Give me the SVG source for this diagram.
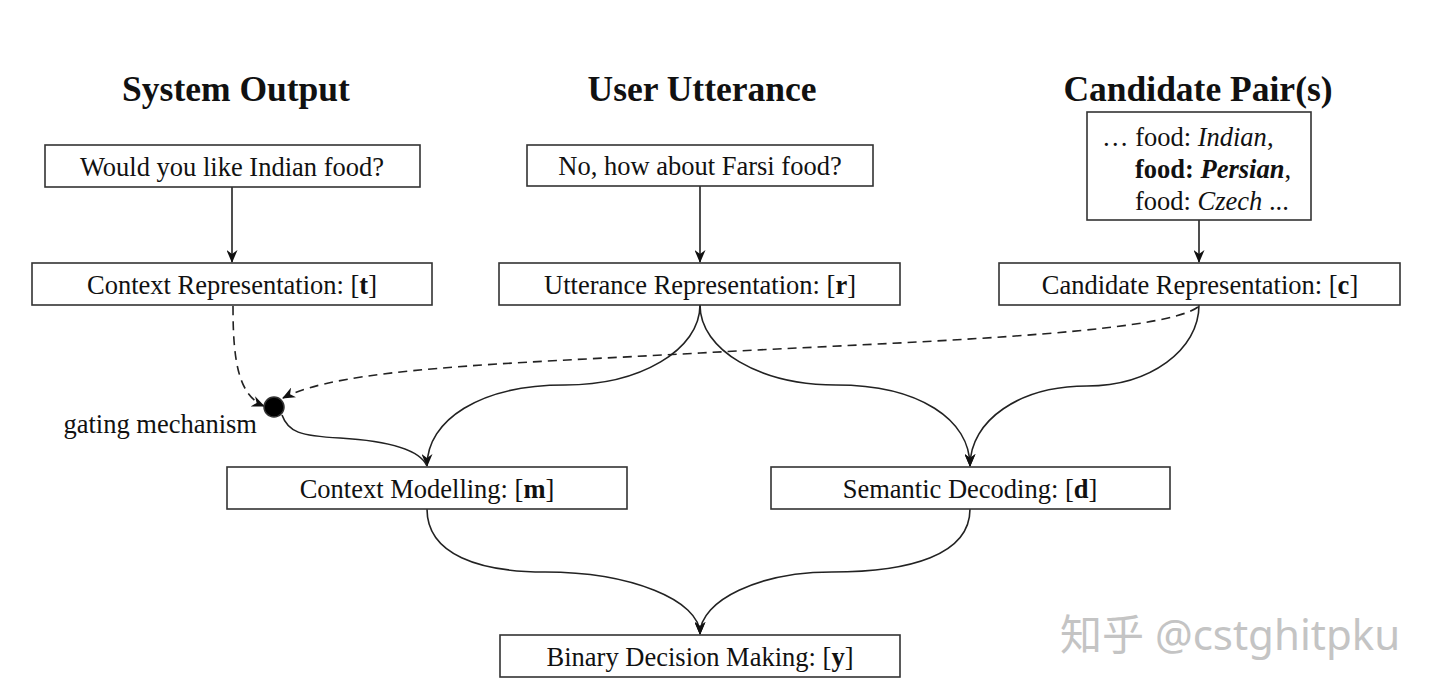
<svg xmlns="http://www.w3.org/2000/svg" width="1440" height="700" viewBox="0 0 1440 700">
<style>
.box{fill:#fff;stroke:#333;stroke-width:1.6}
.t{font-family:"Liberation Serif","Times New Roman",serif;font-size:26.5px;fill:#111;text-anchor:middle}
.h{font-family:"Liberation Serif","Times New Roman",serif;font-size:35.5px;font-weight:bold;fill:#111;text-anchor:middle}
.c{font-family:"Liberation Serif","Times New Roman",serif;font-size:26.5px;fill:#111}
.ln{fill:none;stroke:#222;stroke-width:1.6}
.dash{stroke-dasharray:9 6}
</style>
<defs>
<marker id="arr" viewBox="0 0 13 11" refX="12" refY="5.5" markerWidth="13" markerHeight="11" markerUnits="userSpaceOnUse" orient="auto">
<path d="M0,0 L13,5.5 L0,11 L4,5.5 z" fill="#111"/>
</marker>
</defs>
<rect width="1440" height="700" fill="#fff"/>
<text class="h" x="236" y="101">System Output</text>
<text class="h" x="702" y="101">User Utterance</text>
<text class="h" x="1198" y="101">Candidate Pair(s)</text>
<g id="connectors">
<path class="ln" d="M232,187 L232,262" marker-end="url(#arr)"/>
<path class="ln" d="M700,186 L700,262" marker-end="url(#arr)"/>
<path class="ln" d="M1199,220 L1199,262" marker-end="url(#arr)"/>
<path class="ln" d="M700,305 C700,350 640,385 565,385 C480,385 427,420 427,466" marker-end="url(#arr)"/>
<path class="ln" d="M700,305 C700,350 760,385 836,385 C920,385 970,420 970,466" marker-end="url(#arr)"/>
<path class="ln" d="M1199,305 C1199,350 1150,386 1087,386 C1020,386 970,420 970,466" marker-end="url(#arr)"/>
<path class="ln" d="M282,415 C288,432 300,436 340,438 C390,441 420,450 427,466"/>
<path class="ln dash" d="M233,306 C233,360 238,395 264,406" marker-end="url(#arr)"/>
<path class="ln dash" d="M1198,307 C1160,335 900,342 700,353 C500,364 340,368 283,398" marker-end="url(#arr)"/>
<path class="ln" d="M427,509 C427,555 480,572 545,572 C630,572 700,600 700,634" marker-end="url(#arr)"/>
<path class="ln" d="M970,509 C970,555 910,572 832,572 C760,572 700,600 700,634" marker-end="url(#arr)"/>
</g>
<g id="gate">
<circle cx="274" cy="407" r="10" fill="#000" stroke="#333" stroke-width="1.5"/>
<text class="t" x="257" y="433" style="text-anchor:end">gating mechanism</text>
</g>
<g id="system-output">
<rect class="box" x="45" y="145" width="375" height="42"/>
<text class="t" x="232" y="176">Would you like Indian food?</text>
</g>
<g id="user-utterance">
<rect class="box" x="527" y="145" width="346" height="41"/>
<text class="t" x="700" y="175">No, how about Farsi food?</text>
</g>
<g id="candidate-pairs">
<rect class="box" x="1087" y="112" width="224" height="108"/>
<text class="c" x="1102" y="146">… food: <tspan font-style="italic">Indian</tspan>,</text>
<text class="c" x="1135" y="178"><tspan font-weight="bold">food: </tspan><tspan font-weight="bold" font-style="italic">Persian</tspan>,</text>
<text class="c" x="1135" y="210">food: <tspan font-style="italic">Czech</tspan> ...</text>
</g>
<g id="context-rep">
<rect class="box" x="32" y="263" width="400" height="42"/>
<text class="t" x="232" y="294">Context Representation: [<tspan font-weight="bold">t</tspan>]</text>
</g>
<g id="utterance-rep">
<rect class="box" x="499" y="263" width="401" height="42"/>
<text class="t" x="700" y="294">Utterance Representation: [<tspan font-weight="bold">r</tspan>]</text>
</g>
<g id="candidate-rep">
<rect class="box" x="999" y="263" width="401" height="42"/>
<text class="t" x="1200" y="294">Candidate Representation: [<tspan font-weight="bold">c</tspan>]</text>
</g>
<g id="context-modelling">
<rect class="box" x="227" y="467" width="400" height="42"/>
<text class="t" x="427" y="498">Context Modelling: [<tspan font-weight="bold">m</tspan>]</text>
</g>
<g id="semantic-decoding">
<rect class="box" x="771" y="467" width="399" height="42"/>
<text class="t" x="970" y="498">Semantic Decoding: [<tspan font-weight="bold">d</tspan>]</text>
</g>
<g id="binary-decision">
<rect class="box" x="500" y="635" width="400" height="42"/>
<text class="t" x="700" y="666">Binary Decision Making: [<tspan font-weight="bold">y</tspan>]</text>
</g>
<text x="1060" y="650" font-family="'Noto Sans','Noto Sans CJK SC',sans-serif" font-size="42" fill="#c4c4c4">知乎 @cstghitpku</text>
</svg>
